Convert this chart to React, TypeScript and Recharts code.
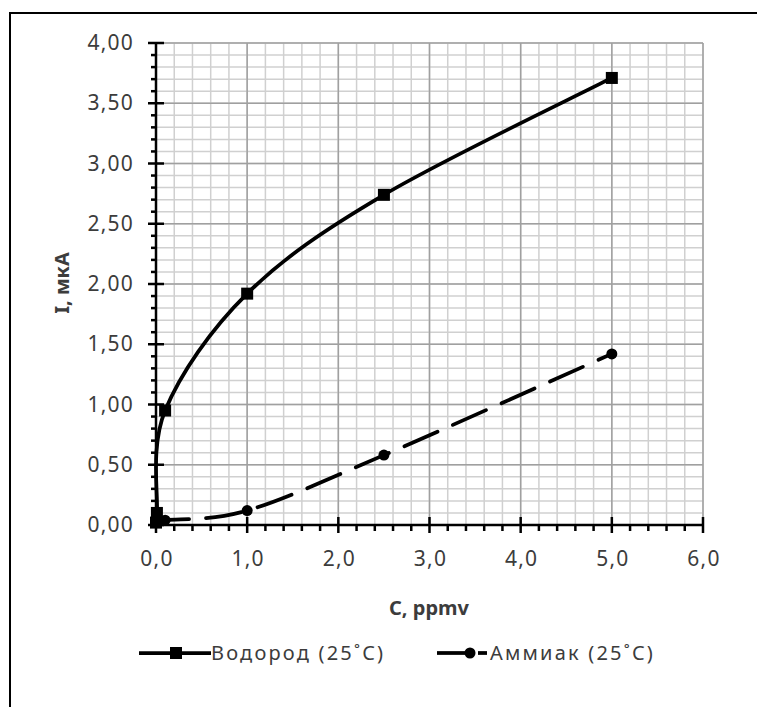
import { LineChart, Line, XAxis, YAxis, CartesianGrid } from "recharts";

// --- Data ---
const hydrogenC = [0, 0.01, 0.1, 1, 2.5, 5];
const hydrogenI = [0.02, 0.1, 0.95, 1.92, 2.74, 3.71];
const ammoniaC = [0, 0.01, 0.1, 1, 2.5, 5];
const ammoniaI = [0.02, 0.03, 0.04, 0.12, 0.58, 1.42];

const xMajor = [0, 1, 2, 3, 4, 5, 6];
const yMajor = [0, 0.5, 1, 1.5, 2, 2.5, 3, 3.5, 4];
const xMinor = Array.from({ length: 31 }, (_, i) => +(i * 0.2).toFixed(1));
const yMinor = Array.from({ length: 41 }, (_, i) => +(i * 0.1).toFixed(1));

const hydrogen = hydrogenC.map((c, i) => ({ x: c, y: hydrogenI[i] }));
const ammonia = ammoniaC.map((c, i) => ({ x: c, y: ammoniaI[i] }));

const FONT = "'Noto Sans', 'Open Sans', sans-serif";
const TEXT = "#3c3c3c";

// Excel-like smoothed line (cubic bezier through every point)
function excelSmooth(context: any) {
  let pts: [number, number][] = [];
  return {
    areaStart() {},
    areaEnd() {},
    lineStart() {
      pts = [];
    },
    point(x: number, y: number) {
      pts.push([+x, +y]);
    },
    lineEnd() {
      const n = pts.length;
      if (!n) return;
      context.moveTo(pts[0][0], pts[0][1]);
      for (let i = 0; i < n - 1; i++) {
        const p0 = pts[i - 1] || pts[i];
        const p1 = pts[i];
        const p2 = pts[i + 1];
        const p3 = pts[i + 2] || p2;
        context.bezierCurveTo(
          p1[0] + (p2[0] - p0[0]) / 6,
          p1[1] + (p2[1] - p0[1]) / 6,
          p2[0] - (p3[0] - p1[0]) / 6,
          p2[1] - (p3[1] - p1[1]) / 6,
          p2[0],
          p2[1]
        );
      }
    },
  };
}

const isMultiple = (v: number, step: number) =>
  Math.abs(v / step - Math.round(v / step)) < 1e-6;

function XTick({ x, y, payload }: any) {
  const v = payload.value as number;
  const major = isMultiple(v, 1);
  return (
    <g>
      <line
        x1={x}
        x2={x}
        y1={major ? y - 8 : y}
        y2={y + (major ? 8 : 6)}
        stroke="#000"
        strokeWidth={2.5}
      />
      {major && (
        <text
          x={x + 1}
          y={y + 41}
          textAnchor="middle"
          fontFamily={FONT}
          fontSize={21}
          letterSpacing={1.2}
          fill={TEXT}
        >
          {v.toFixed(1).replace(".", ",")}
        </text>
      )}
    </g>
  );
}

function YTick({ x, y, payload }: any) {
  const v = payload.value as number;
  const major = isMultiple(v, 0.5);
  return (
    <g>
      <line
        x1={major ? x - 8 : x - 5}
        x2={major ? x + 8 : x}
        y1={y}
        y2={y}
        stroke="#000"
        strokeWidth={2.5}
      />
      {major && (
        <text
          x={x - 22}
          y={y + 7}
          textAnchor="end"
          fontFamily={FONT}
          fontSize={21}
          letterSpacing={1.2}
          fill={TEXT}
        >
          {v.toFixed(2).replace(".", ",")}
        </text>
      )}
    </g>
  );
}

const SquareDot = (p: any) => (
  <rect key={`sq-${p.index}`} x={p.cx - 6} y={p.cy - 6} width={12} height={12} fill="#000" />
);

const CircleDot = (p: any) => (
  <circle key={`ci-${p.index}`} cx={p.cx} cy={p.cy} r={5.5} fill="#000" />
);

export default function App() {
  return (
    <div
      style={{
        position: "relative",
        width: 757,
        height: 699,
        overflow: "hidden",
        fontFamily: FONT,
      }}
    >
      {/* outer frame */}
      <div
        style={{
          position: "absolute",
          left: 1,
          top: 4,
          width: 900,
          height: 900,
          border: "2.5px solid #000",
          boxSizing: "border-box",
        }}
      />
      <div style={{ position: "absolute", left: 0, top: 0 }}>
        <LineChart
          width={757}
          height={690}
          margin={{ top: 35, right: 62, left: 88, bottom: 143 }}
        >
          <CartesianGrid
            verticalValues={xMinor}
            horizontalValues={yMinor}
            stroke="#d0d0d0"
            strokeWidth={1.5}
          />
          <CartesianGrid
            verticalValues={xMajor}
            horizontalValues={yMajor}
            stroke="#a0a0a0"
            strokeWidth={1.5}
          />
          <XAxis
            type="number"
            dataKey="x"
            domain={[0, 6]}
            ticks={xMinor}
            interval={0}
            height={30}
            tickSize={0}
            tickMargin={0}
            tickLine={false}
            axisLine={{ stroke: "#000", strokeWidth: 2.5 }}
            tick={<XTick />}
          />
          <YAxis
            type="number"
            dataKey="y"
            domain={[0, 4]}
            ticks={yMinor}
            interval={0}
            width={60}
            tickSize={0}
            tickMargin={0}
            tickLine={false}
            axisLine={{ stroke: "#000", strokeWidth: 2.5 }}
            tick={<YTick />}
          />
          <Line
            data={hydrogen}
            dataKey="y"
            type={excelSmooth as any}
            stroke="#000"
            strokeWidth={3.75}
            dot={SquareDot}
            activeDot={false}
            isAnimationActive={false}
          />
          <Line
            data={ammonia}
            dataKey="y"
            type={excelSmooth as any}
            stroke="#000"
            strokeWidth={3.75}
            strokeDasharray="36 17"
            strokeLinecap="round"
            dot={CircleDot}
            activeDot={false}
            isAnimationActive={false}
          />
        </LineChart>
      </div>
      {/* axis titles and legend */}
      <svg
        width={757}
        height={699}
        style={{ position: "absolute", left: 0, top: 0, pointerEvents: "none" }}
      >
        <text
          x={421}
          y={607}
          textAnchor="middle"
          fontFamily={FONT}
          fontSize={20}
          fontWeight={700}
          fill={TEXT}
        >
          C, ppmv
        </text>
        <text
          transform="translate(61 275) rotate(-90)"
          textAnchor="middle"
          fontFamily={FONT}
          fontSize={20}
          fontWeight={700}
          fill={TEXT}
        >
          I, мкА
        </text>
        <line x1={131} x2={203} y1={645} y2={645} stroke="#000" strokeWidth={3.75} />
        <rect x={162} y={639} width={12} height={12} fill="#000" />
        <text x={203} y={652} fontFamily={FONT} fontSize={20} letterSpacing={2.2} fill={TEXT}>
          Водород (25˚C)
        </text>
        <line x1={429} x2={457} y1={645} y2={645} stroke="#000" strokeWidth={3.75} />
        <circle cx={462} cy={645} r={5.5} fill="#000" />
        <line x1={470} x2={479} y1={645} y2={645} stroke="#000" strokeWidth={3.75} />
        <text x={482} y={652} fontFamily={FONT} fontSize={20} letterSpacing={2.2} fill={TEXT}>
          Аммиак (25˚C)
        </text>
      </svg>
    </div>
  );
}
